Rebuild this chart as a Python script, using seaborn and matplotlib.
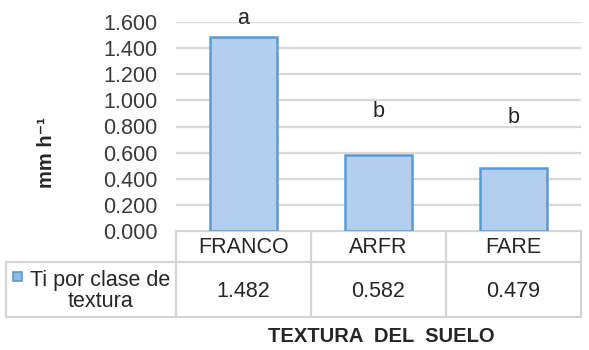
import numpy as np
import pandas as pd
import seaborn as sns
import matplotlib.pyplot as plt
from matplotlib.patches import Rectangle

# data
categories = ["FRANCO", "ARFR", "FARE"]
values = [1.482, 0.582, 0.479]
letters = ["a", "b", "b"]
letter_y = [1.63, 0.915, 0.87]
series_name = "Ti por clase de\ntextura"
yticks = [0.0, 0.2, 0.4, 0.6, 0.8, 1.0, 1.2, 1.4, 1.6]

df = pd.DataFrame({"textura": categories, "ti": values})

sns.set_theme(style="white")
plt.rcParams['font.family'] = ['Liberation Sans', 'DejaVu Sans']

W, H = 589, 350
fig = plt.figure(figsize=(W / 100, H / 100), dpi=100)

# plot area in pixels
left, right, top, bottom = 176, 581, 22, 231
ax = fig.add_axes([left / W, 1 - bottom / H, (right - left) / W, (bottom - top) / H])

fs = 15.5
txt = "#262626"
bar_col = "#b3cfec"
edge_col = "#5b9bd5"
sns.barplot(data=df, x="textura", y="ti", ax=ax, width=0.5, color=bar_col,
            edgecolor=edge_col, linewidth=1.8, saturation=1, zorder=3)
ax.set_xlim(-0.5, 2.5)
ax.set_ylim(0, 1.6)
ax.set_yticks(yticks)
ax.set_yticklabels([f"{v:.3f}" for v in yticks], fontsize=fs, color="#3a3a3a")
ax.tick_params(axis="y", length=0, pad=13.5)
ax.set_xticks([])
ax.set_xlabel("")
ax.set_ylabel("")
for s in ax.spines.values():
    s.set_visible(False)
ax.yaxis.grid(True, color="#d9d9d9", linewidth=1.6, zorder=0)
ax.set_axisbelow(True)

for i, (l, ly) in enumerate(zip(letters, letter_y)):
    ax.text(i, ly, l, ha="center", va="center", fontsize=fs, color=txt)

# overlay in pixel coordinates for the data table
ov = fig.add_axes([0, 0, 1, 1], zorder=-1)
ov.set_xlim(0, W)
ov.set_ylim(H, 0)
ov.axis("off")

gc = "#d4d4d4"
colw = (right - left) / len(categories)
row1, row2, row3 = bottom, 262, 317
tab_left = 6
ov.plot([left, right], [row1, row1], color=gc, lw=1.6)
ov.plot([tab_left, right], [row2, row2], color=gc, lw=1.6)
ov.plot([tab_left, right], [row3, row3], color=gc, lw=1.6)
ov.plot([tab_left, tab_left], [row2, row3], color=gc, lw=1.6)
for k in range(len(categories) + 1):
    xk = left + k * colw
    ov.plot([xk, xk], [row1, row3], color=gc, lw=1.6)

for i, (c, v) in enumerate(zip(categories, values)):
    xc = left + (i + 0.5) * colw
    ov.text(xc, (row1 + row2) / 2 + 1, c, ha="center", va="center", fontsize=fs, color=txt)
    ov.text(xc, (row2 + row3) / 2 + 2, f"{v:.3f}", ha="center", va="center", fontsize=fs, color=txt)

# legend key + series name
ov.add_patch(Rectangle((13, 272), 9, 9, facecolor="#8fb8e6", edgecolor=edge_col, lw=1.2))
ov.text(100, 291, series_name, ha="center", va="center", fontsize=fs, color=txt,
        linespacing=1.05)

# axis titles
fig.text(381 / W, 1 - 337 / H, "TEXTURA  DEL  SUELO", ha="center", va="center",
         fontsize=14.5, fontweight="bold", color=txt)
fig.text(46 / W, 1 - 153 / H, "mm h\u207b\u00b9", ha="center", va="center", rotation=90,
         fontsize=14.5, fontweight="bold", color=txt)

fig.savefig("out.png", dpi=100)
